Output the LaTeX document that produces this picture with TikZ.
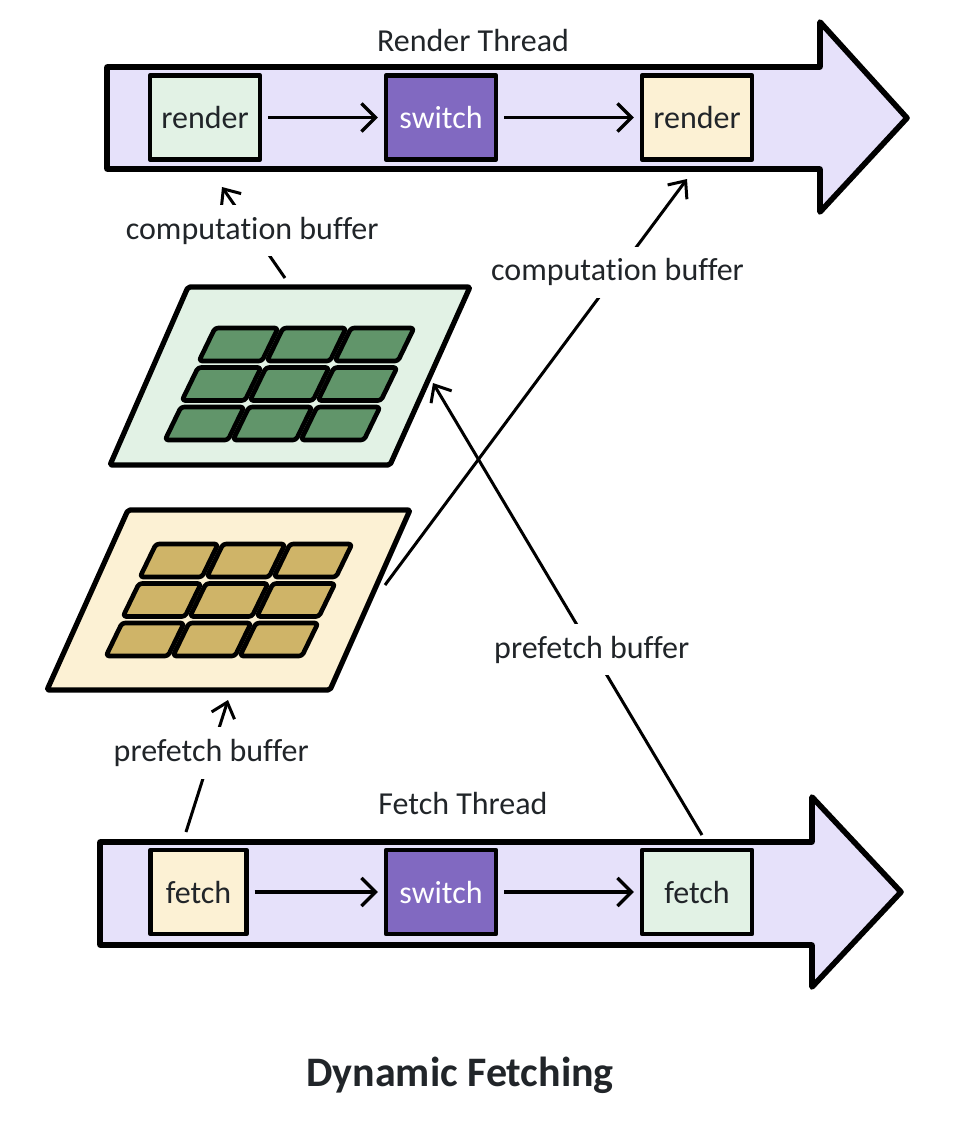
\documentclass[tikz,border=0pt]{standalone}
\usepackage{fontspec}
\setmainfont{Carlito}[Ligatures=CommonOff]
\usetikzlibrary{arrows.meta}

\definecolor{threadfill}{HTML}{E6E1FA}
\definecolor{mintfill}{HTML}{E2F2E5}
\definecolor{creamfill}{HTML}{FCF1D4}
\definecolor{switchfill}{HTML}{8169C1}
\definecolor{tilegreen}{HTML}{61956A}
\definecolor{tilegold}{HTML}{CFB468}
\definecolor{inkgray}{HTML}{212529}

\begin{document}
\begin{tikzpicture}[x=0.5pt,y=-0.5pt,line join=round,
  every node/.style={text=inkgray,font=\fontsize{16pt}{19pt}\selectfont},
  thread/.style={draw=black,fill=threadfill,line width=2.8pt},
  stepnode/.style={draw=black,line width=2.2pt,minimum height=42pt,inner sep=0pt},
  plate/.style={draw=black,line width=2.6pt,rounded corners=1pt},
  tile/.style={draw=black,line width=2.3pt,rounded corners=1.5pt},
  flow/.style={line width=1.65pt,-{Straight Barb[length=7pt,width=14pt,line width=1.65pt]}},
  link/.style={line width=1.5pt},
  tip/.style={-{Straight Barb[length=7pt,width=12pt,line width=1.5pt]}},
  lbl/.style={fill=white,inner sep=6pt},
]
\useasboundingbox (0,0) rectangle (958,1132);
%% thread arrows
\draw [thread] (107,67) -- (820,67) -- (820,22) -- (907,118) -- (820,212) -- (820,169) -- (107,169) -- cycle;
\draw [thread] (100,842) -- (812,842) -- (812,797) -- (901,892) -- (812,987) -- (812,945) -- (100,945) -- cycle;
\node (render_thread) at (473,40) {Render Thread};
\node (fetch_thread) at (463,803) {Fetch Thread};
%% render thread steps
\node (render_0) at (205,117.5) [stepnode,fill=mintfill,minimum width=55pt] {render};
\node (switch_0) at (441,117.5) [stepnode,fill=switchfill,minimum width=55pt,text=white] {switch};
\node (render_1) at (697,117.5) [stepnode,fill=creamfill,minimum width=55pt] {render};
\draw [flow,shorten <=3pt,shorten >=3pt] (render_0) -- (switch_0);
\draw [flow,shorten <=3pt,shorten >=3pt] (switch_0) -- (render_1);
%% fetch thread steps
\node (fetch_0) at (198.5,892) [stepnode,fill=creamfill,minimum width=48pt] {fetch};
\node (switch_1) at (441,892) [stepnode,fill=switchfill,minimum width=55pt,text=white] {switch};
\node (fetch_1) at (697,892) [stepnode,fill=mintfill,minimum width=55pt] {fetch};
\draw [flow,shorten <=3pt,shorten >=3pt] (fetch_0) -- (switch_1);
\draw [flow,shorten <=3pt,shorten >=3pt] (switch_1) -- (fetch_1);
%% buffers
\draw [plate,fill=mintfill] (188,287) -- (470,287) -- (390,465) -- (110,465) -- cycle;
\draw [plate,fill=creamfill] (128,510) -- (410,510) -- (330,690) -- (47,690) -- cycle;
\foreach \r in {0,1,2}{\foreach \c in {0,1,2}{
  \pgfmathsetmacro\tx{215+68*\c-17*\r}
  \pgfmathsetmacro\ty{328+39.5*\r}
  \draw [tile,fill=tilegreen] (\tx,\ty) -- ++(63,0) -- ++(-16,33) -- ++(-63,0) -- cycle;
  \pgfmathsetmacro\tx{156+67*\c-17*\r}
  \pgfmathsetmacro\ty{544+39.5*\r}
  \draw [tile,fill=tilegold] (\tx,\ty) -- ++(62,0) -- ++(-16,33) -- ++(-62,0) -- cycle;
}}
%% connector ends
\coordinate (comp_out) at (285,278);
\coordinate (comp_in) at (222,187);
\coordinate (next_out) at (385,585);
\coordinate (next_in) at (687,179);
\coordinate (pre_out) at (702,835);
\coordinate (pre_in) at (433,383);
\coordinate (fill_out) at (186,832);
\coordinate (fill_in) at (228,700);
%% buffer links
\draw [link,tip] (comp_out) -- node[lbl,pos=0.52] {computation buffer} (comp_in);
\draw [link,tip] (next_out) -- node[lbl,pos=0.77] {computation buffer} (next_in);
\draw [link,tip] (pre_out) -- node[lbl,pos=0.41] {prefetch buffer} (pre_in);
\draw [link,tip] (fill_out) -- node[lbl,pos=0.6] {prefetch buffer} (fill_in);
%%
\node (title) at (460,1075) [font=\fontsize{21pt}{25pt}\selectfont\bfseries] {Dynamic Fetching};
%
\end{tikzpicture}
\end{document}
